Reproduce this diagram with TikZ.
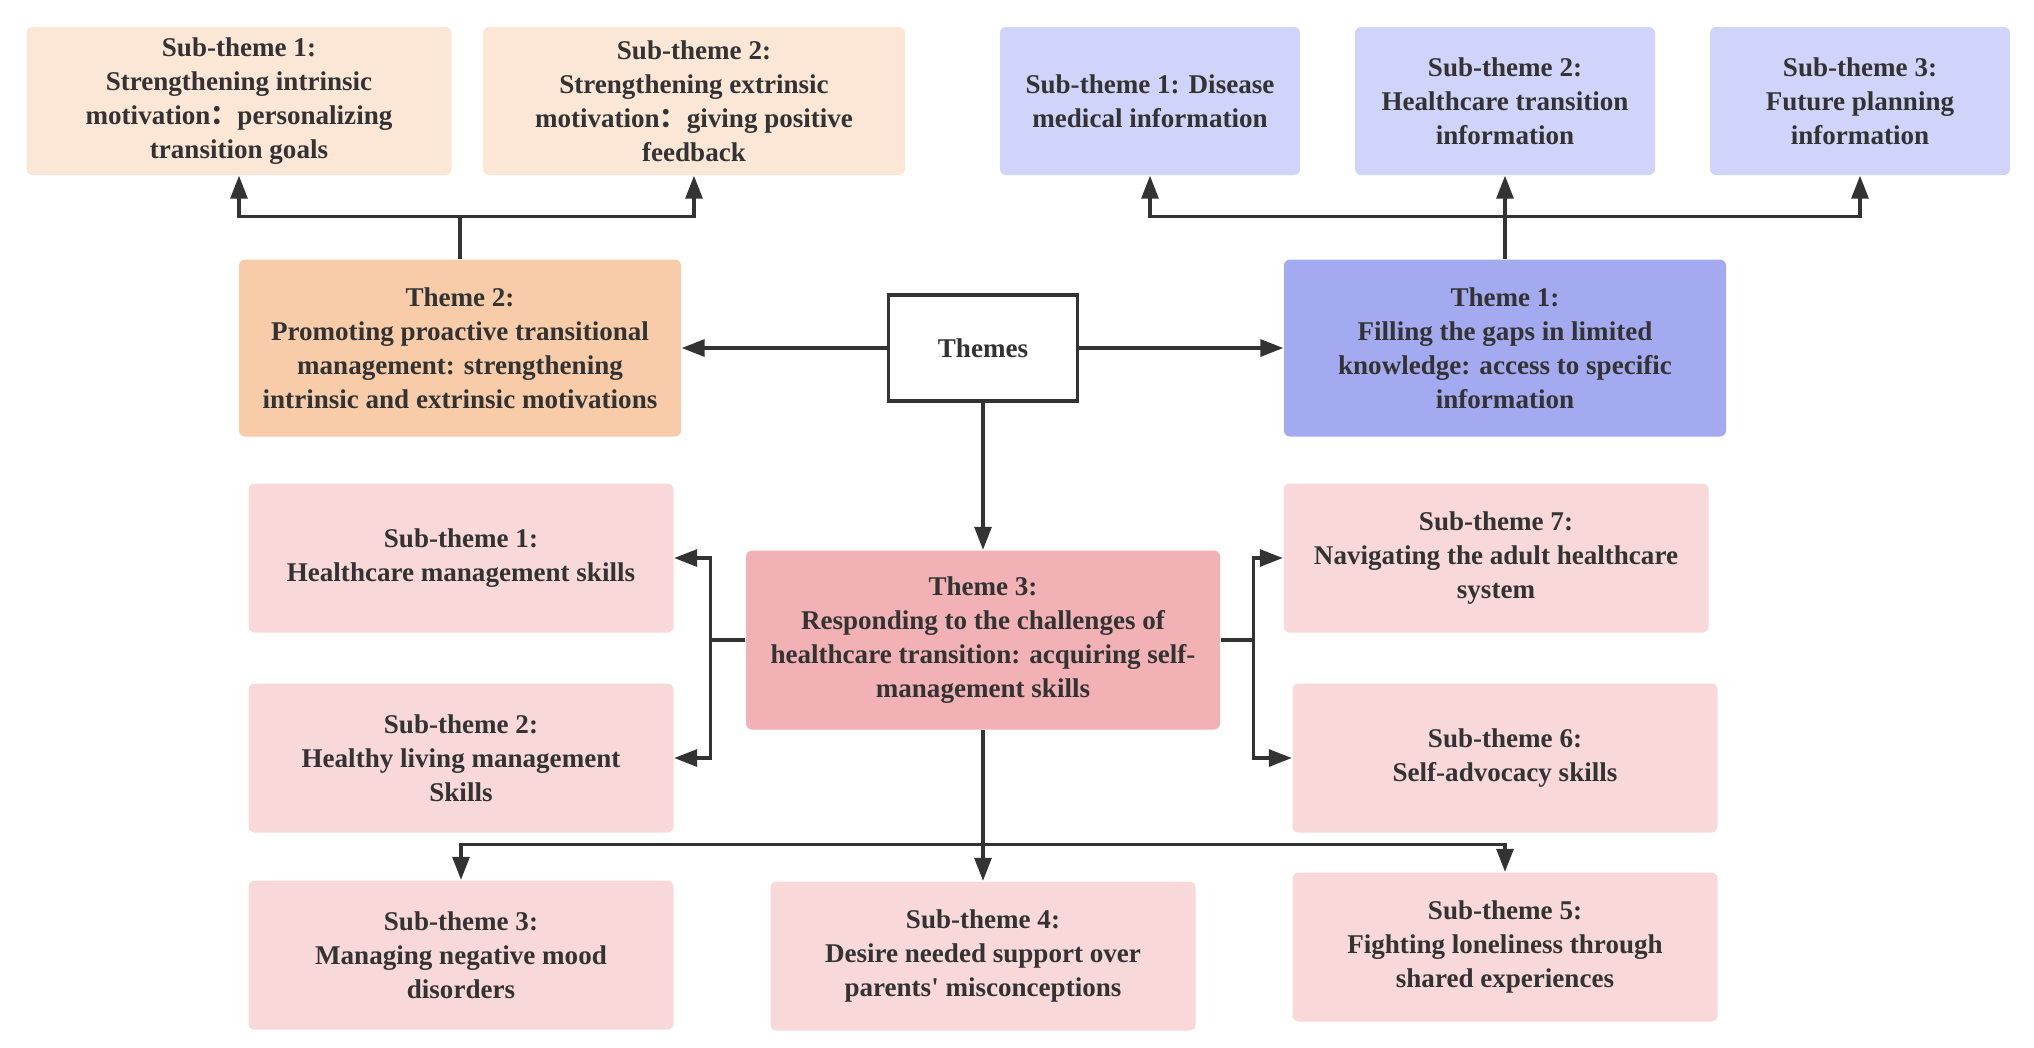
\documentclass[tikz,border=0pt]{standalone}
\usepackage{fontspec}
\setmainfont{Liberation Serif}
\newfontfamily\cjk{Noto Sans CJK SC}
\usetikzlibrary{arrows.meta}

\definecolor{orangeLight}{HTML}{FCE6D6}
\definecolor{orangeDark}{HTML}{F8CCA8}
\definecolor{blueLight}{HTML}{D0D4FA}
\definecolor{blueDark}{HTML}{A4AAF0}
\definecolor{pinkLight}{HTML}{F8D8D8}
\definecolor{pinkDark}{HTML}{F2B2B5}
\definecolor{lineGray}{HTML}{333333}

\begin{document}
\begin{tikzpicture}[
    box/.style={rectangle, rounded corners=0.06cm, align=center, inner sep=0pt, text=lineGray, font=\fontsize{7.7}{9.7}\selectfont\bfseries},
    subtheme/.style={box, minimum width=4.25cm, minimum height=1.49cm},
    infobox/.style={box, fill=blueLight, minimum width=3cm, minimum height=1.48cm},
    theme/.style={box, minimum width=4.42cm, minimum height=1.77cm},
    link/.style={draw=lineGray, line width=0.9pt, -{Triangle[length=0.23cm, width=0.17cm]}},
    joint/.style={draw=lineGray, line width=0.9pt}
]
\useasboundingbox (0,0) rectangle (20.34,-10.47);

% Centre
\node[box, rounded corners=0pt, draw=lineGray, line width=0.9pt, fill=white, minimum width=1.89cm, minimum height=1.06cm] (themes) at (9.83,-3.48) {Themes};

% Themes
\node[theme, fill=orangeDark] (t2) at (4.60,-3.48) {Theme 2:\\Promoting proactive transitional\\management: strengthening\\intrinsic and extrinsic motivations};
\node[theme, fill=blueDark] (t1) at (15.05,-3.48) {Theme 1:\\Filling the gaps in limited\\knowledge: access to specific\\information};
\node[theme, fill=pinkDark, minimum width=4.74cm, minimum height=1.79cm] (t3) at (9.83,-6.40) {Theme 3:\\Responding to the challenges of\\healthcare transition: acquiring self-\\management skills};

% Sub-themes of theme 2
\node[subtheme, fill=orangeLight, minimum height=1.48cm] (o1) at (2.39,-1.01) {Sub-theme 1:\\Strengthening intrinsic\\motivation{\cjk ：}personalizing\\transition goals};
\node[subtheme, fill=orangeLight, minimum width=4.22cm, minimum height=1.48cm] (o2) at (6.94,-1.01) {Sub-theme 2:\\Strengthening extrinsic\\motivation{\cjk ：}giving positive\\feedback};

% Sub-themes of theme 1
\node[infobox] (b1) at (11.50,-1.01) {Sub-theme 1: Disease\\medical information};
\node[infobox] (b2) at (15.05,-1.01) {Sub-theme 2:\\Healthcare transition\\information};
\node[infobox] (b3) at (18.60,-1.01) {Sub-theme 3:\\Future planning\\information};

% Sub-themes of theme 3
\node[subtheme, fill=pinkLight] (p1) at (4.61,-5.58) {Sub-theme 1:\\Healthcare management skills};
\node[subtheme, fill=pinkLight] (p2) at (4.61,-7.58) {Sub-theme 2:\\Healthy living management\\Skills};
\node[subtheme, fill=pinkLight] (p3) at (4.61,-9.55) {Sub-theme 3:\\Managing negative mood\\disorders};
\node[subtheme, fill=pinkLight] (p4) at (9.83,-9.56) {Sub-theme 4:\\Desire needed support over\\parents\textquotesingle{} misconceptions};
\node[subtheme, fill=pinkLight] (p5) at (15.05,-9.47) {Sub-theme 5:\\Fighting loneliness through\\shared experiences};
\node[subtheme, fill=pinkLight] (p6) at (15.05,-7.58) {Sub-theme 6:\\Self-advocacy skills};
\node[subtheme, fill=pinkLight] (p7) at (14.96,-5.58) {Sub-theme 7:\\Navigating the adult healthcare\\system};

% Connectors
\draw[link] (themes.west) -- (t2.east);
\draw[link] (themes.east) -- (t1.west);
\draw[link] (themes.south) -- (t3.north);

\draw[link] (t2.north) -- ++(0,0.42) -| (o1.south);
\draw[link] (t2.north) -- ++(0,0.42) -| (o2.south);

\draw[link] (t1.north) -- ++(0,0.42) -| (b1.south);
\draw[link] (t1.north) -- (b2.south);
\draw[link] (t1.north) -- ++(0,0.42) -| (b3.south);

\draw[link] (t3.west) -- ++(-0.35,0) |- (p1.east);
\draw[link] (t3.west) -- ++(-0.35,0) |- (p2.east);
\draw[link] (t3.east) -- ++(0.33,0) |- (p7.west);
\draw[link] (t3.east) -- ++(0.33,0) |- (p6.west);

\draw[link] (t3.south) -- ++(0,-1.14) -| (p3.north);
\draw[link] (t3.south) -- (p4.north);
\draw[link] (t3.south) -- ++(0,-1.14) -| (p5.north);

\end{tikzpicture}
\end{document}
